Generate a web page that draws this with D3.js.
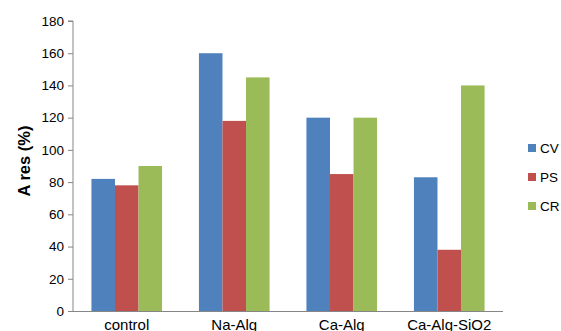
<!DOCTYPE html>
<html><head><meta charset="utf-8">
<script src="https://cdn.jsdelivr.net/npm/d3@7"></script>
<style>body{margin:0;background:#fff}svg{display:block}</style>
</head><body><svg id="c" width="561" height="331"></svg>
<script>
const categories = ["control","Na-Alg","Ca-Alg","Ca-Alg-SiO2"];
const seriesNames = ["CV","PS","CR"];
const CV = [82,160,120,83];
const PS = [78,118,85,38];
const CR = [90,145,120,140];
const yTicks = [0,20,40,60,80,100,120,140,160,180];
const colors = ["#4F81BD","#C0504D","#9BBB59"];
const seriesValues = [CV,PS,CR];

(function(){
const svg = d3.select("#c");
const font = "Liberation Sans, Arial, sans-serif";
const mLeft = 73, mRight = 503, mTop = 21, mBottom = 311;
const x0 = d3.scaleBand().domain(categories).range([mLeft,mRight]).paddingInner(0.343).paddingOuter(0.1715);
const x1 = d3.scaleBand().domain(seriesNames).range([0,x0.bandwidth()]);
const y = d3.scaleLinear().domain([0,180]).range([mBottom,mTop]);

seriesNames.forEach((s,si)=>{
  svg.append("g").selectAll("rect").data(categories).join("rect")
    .attr("x",c=>x0(c)+x1(s))
    .attr("y",(c,i)=>y(seriesValues[si][i]))
    .attr("width",x1.bandwidth())
    .attr("height",(c,i)=>y(0)-y(seriesValues[si][i]))
    .attr("fill",colors[si]);
});

const ya = svg.append("g").attr("transform",`translate(${mLeft},0)`)
  .call(d3.axisLeft(y).tickValues(yTicks).tickSize(5).tickPadding(4));
ya.select(".domain").attr("stroke","#868686").attr("d",`M-5,${mTop}H0V${mBottom}`);
ya.selectAll(".tick line").attr("stroke","#868686");
ya.selectAll("text").attr("font-family",font).attr("font-size",13.5).attr("fill","#000");

const xa = svg.append("g").attr("transform",`translate(0,${mBottom})`)
  .call(d3.axisBottom(x0).tickSize(0).tickPadding(8));
xa.select(".domain").attr("stroke","#868686").attr("d",`M${mLeft},0.5H${mRight}`);
xa.selectAll("text").attr("font-family",font).attr("font-size",15).attr("fill","#000");

svg.append("text").attr("transform","translate(30,161) rotate(-90)")
  .attr("text-anchor","middle").attr("font-family",font).attr("font-size",16.5)
  .attr("font-weight","bold").text("A res (%)");

const lg = svg.append("g").selectAll("g").data(seriesNames).join("g")
  .attr("transform",(d,i)=>`translate(528,${148+i*29})`);
lg.append("rect").attr("x",0).attr("y",-4).attr("width",8).attr("height",8).attr("fill",(d,i)=>colors[i]);
lg.append("text").attr("x",12).attr("y",0).attr("dy","0.35em")
  .attr("font-family",font).attr("font-size",13.5).text(d=>d);
})();
</script></body></html>
